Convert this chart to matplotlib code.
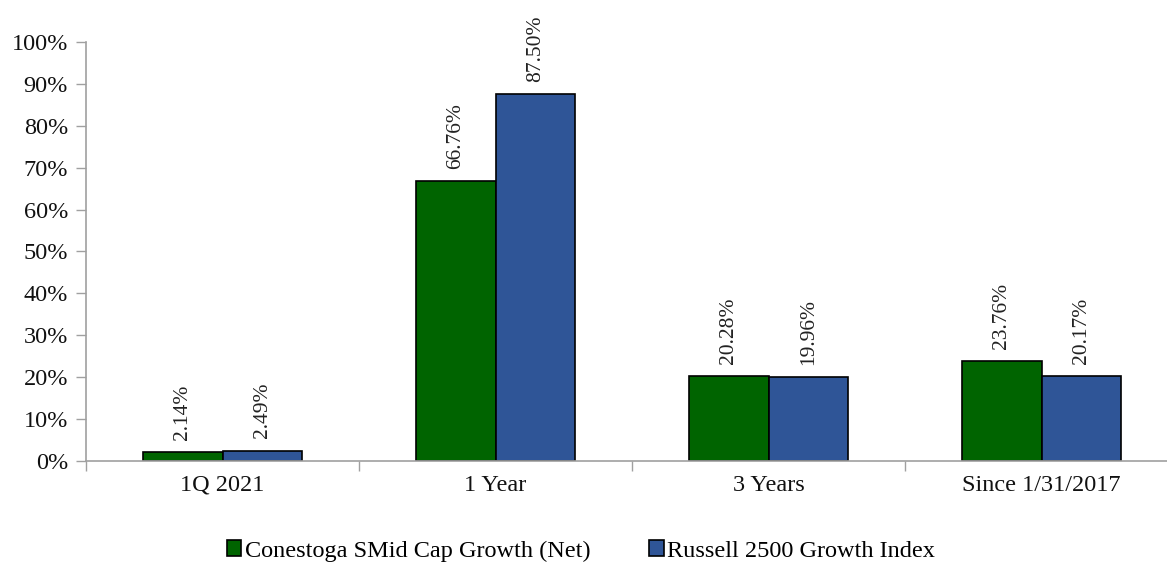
import numpy as np
import matplotlib.pyplot as plt

categories = ['1Q 2021', '1 Year', '3 Years', 'Since 1/31/2017']
conestoga = [2.14, 66.76, 20.28, 23.76]
russell = [2.49, 87.50, 19.96, 20.17]
series_names = ['Conestoga SMid Cap Growth (Net)', 'Russell 2500 Growth Index']
yticks = np.arange(0, 101, 10)

plt.rcParams['font.family'] = ['Liberation Serif', 'DejaVu Serif']

fig = plt.figure(figsize=(11.67, 5.63), dpi=100)
ax = fig.add_axes([86 / 1167, 1 - 461 / 563, 1092 / 1167, 419 / 563])

x = np.arange(len(categories))
w = 0.293
green = '#006400'
blue = '#2F5597'
b1 = ax.bar(x - w / 2, conestoga, w, color=green, edgecolor='black', linewidth=1.2, label=series_names[0])
b2 = ax.bar(x + w / 2, russell, w, color=blue, edgecolor='black', linewidth=1.2, label=series_names[1])

# value labels, rotated like the original
for bars, vals in [(b1, conestoga), (b2, russell)]:
    for r, v in zip(bars, vals):
        ax.annotate(f'{v:.2f}%', (r.get_x() + r.get_width() / 2, v),
                    xytext=(0, 9), textcoords='offset points',
                    rotation=90, ha='center', va='bottom', fontsize=15.5, color='#222222')

ax.set_xlim(-0.5, len(categories) - 0.5)
ax.set_ylim(0, 100)
ax.set_yticks(yticks)
ax.set_yticklabels([f'{t}%' for t in yticks], fontsize=17.5, color='#111111')
ax.set_xticks(x)
ax.set_xticklabels(categories, fontsize=17.5, color='#111111')
ax.set_xticks(np.arange(len(categories) + 1) - 0.5, minor=True)
ax.tick_params(axis='x', which='major', length=0, pad=10)
ax.tick_params(axis='x', which='minor', length=7, color='#A0A0A0', width=1)
ax.tick_params(axis='y', length=7, color='#A0A0A0', width=1, pad=6)

for s in ['top', 'right']:
    ax.spines[s].set_visible(False)
for s in ['left', 'bottom']:
    ax.spines[s].set_color('#A0A0A0')
    ax.spines[s].set_linewidth(1.2)

fig.legend(handles=[b1, b2], loc='center', bbox_to_anchor=(581 / 1167, 1 - 551 / 563),
           ncol=2, frameon=False, fontsize=17.5, handlelength=0.6, handleheight=0.6,
           handletextpad=0.15, columnspacing=2.4)

fig.savefig('out.png', dpi=100)
plt.close(fig)
